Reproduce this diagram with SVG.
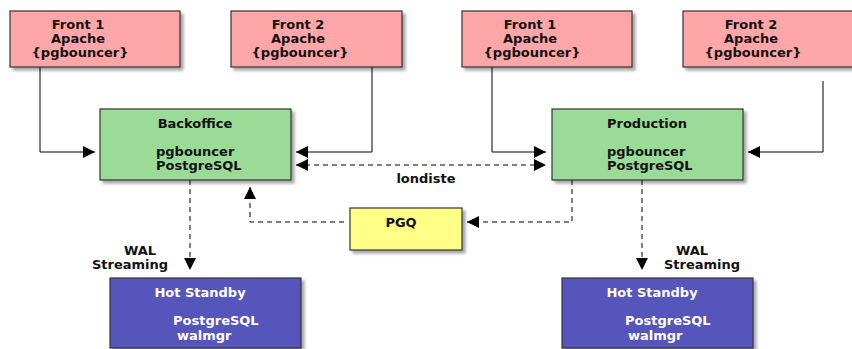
<svg xmlns="http://www.w3.org/2000/svg" width="852" height="349" viewBox="0 0 852 349">
<defs>
<filter id="sh" x="-10%" y="-10%" width="130%" height="140%">
<feGaussianBlur in="SourceAlpha" stdDeviation="1.5"/>
<feOffset dx="3" dy="3" result="b"/>
<feComponentTransfer><feFuncA type="linear" slope="0.35"/></feComponentTransfer>
<feMerge><feMergeNode/><feMergeNode in="SourceGraphic"/></feMerge>
</filter>
<marker id="ah" viewBox="0 0 12 12" refX="12" refY="6" markerWidth="12" markerHeight="12" markerUnits="userSpaceOnUse" orient="auto-start-reverse">
<path d="M0,0 L12,6 L0,12 Z" fill="#000"/>
</marker>
<style>
.box{stroke:#333;stroke-width:1.2;filter:url(#sh)}
.front{fill:#FFA6A8}
.db{fill:#9ADB98}
.pgq{fill:#FFFF88}
.hot{fill:#5555BB}
text{font-family:"DejaVu Sans","Liberation Sans",sans-serif;font-weight:bold;font-size:13px;fill:#111}
.w{fill:#fff}
.c{text-anchor:middle}
.ln{fill:none;stroke:#000;stroke-width:1}
.d{stroke-dasharray:5,4}
</style>
</defs>
<g id="connectors">
<path class="ln" d="M40,67 V152 H95" marker-end="url(#ah)"/>
<path class="ln" d="M372,67 V152 H296" marker-end="url(#ah)"/>
<path class="ln" d="M492,67 V152 H546" marker-end="url(#ah)"/>
<path class="ln" d="M823,81 V152 H748" marker-end="url(#ah)"/>
<path class="ln d" d="M296,165 H546" marker-start="url(#ah)" marker-end="url(#ah)"/>
<path class="ln d" d="M572,180 V222 H467" marker-end="url(#ah)"/>
<path class="ln d" d="M344,222 H250 V187" marker-end="url(#ah)"/>
<path class="ln d" d="M190,180 V270" marker-end="url(#ah)"/>
<path class="ln d" d="M642,180 V270" marker-end="url(#ah)"/>
<text x="426" y="183" class="c">londiste</text>
<text x="140" y="255" class="c">WAL</text>
<text x="130" y="269" class="c">Streaming</text>
<text x="692" y="255" class="c">WAL</text>
<text x="702" y="269" class="c">Streaming</text>
</g>
<g id="front1-left">
<rect class="box front" x="10" y="11" width="170" height="56"/>
<text x="78" y="29" class="c">Front 1</text>
<text x="78" y="43" class="c">Apache</text>
<text x="80" y="57" class="c">{pgbouncer}</text>
</g>
<g id="front2-left">
<rect class="box front" x="231" y="11" width="171" height="56"/>
<text x="298" y="29" class="c">Front 2</text>
<text x="298" y="43" class="c">Apache</text>
<text x="300" y="57" class="c">{pgbouncer}</text>
</g>
<g id="backoffice">
<rect class="box db" x="100" y="109" width="191" height="71"/>
<text x="195" y="128" class="c">Backoffice</text>
<text x="156" y="156">pgbouncer</text>
<text x="156" y="170">PostgreSQL</text>
</g>
<g id="front1-right">
<rect class="box front" x="462" y="11" width="170" height="56"/>
<text x="530" y="29" class="c">Front 1</text>
<text x="530" y="43" class="c">Apache</text>
<text x="532" y="57" class="c">{pgbouncer}</text>
</g>
<g id="front2-right">
<rect class="box front" x="683" y="11" width="172" height="56"/>
<text x="751" y="29" class="c">Front 2</text>
<text x="751" y="43" class="c">Apache</text>
<text x="753" y="57" class="c">{pgbouncer}</text>
</g>
<g id="production">
<rect class="box db" x="552" y="109" width="191" height="71"/>
<text x="647" y="128" class="c">Production</text>
<text x="607" y="156">pgbouncer</text>
<text x="607" y="170">PostgreSQL</text>
</g>
<g id="pgq">
<rect class="box pgq" x="350" y="208" width="112" height="42"/>
<text x="401" y="227" class="c">PGQ</text>
</g>
<g id="hotstandby-left">
<rect class="box hot" x="110" y="278" width="191" height="70"/>
<text x="200" y="297" class="c w">Hot Standby</text>
<text x="173" y="325" class="w">PostgreSQL</text>
<text x="177" y="340" class="w">walmgr</text>
</g>
<g id="hotstandby-right">
<rect class="box hot" x="562" y="278" width="191" height="70"/>
<text x="652" y="297" class="c w">Hot Standby</text>
<text x="625" y="325" class="w">PostgreSQL</text>
<text x="628" y="340" class="w">walmgr</text>
</g>
</svg>
